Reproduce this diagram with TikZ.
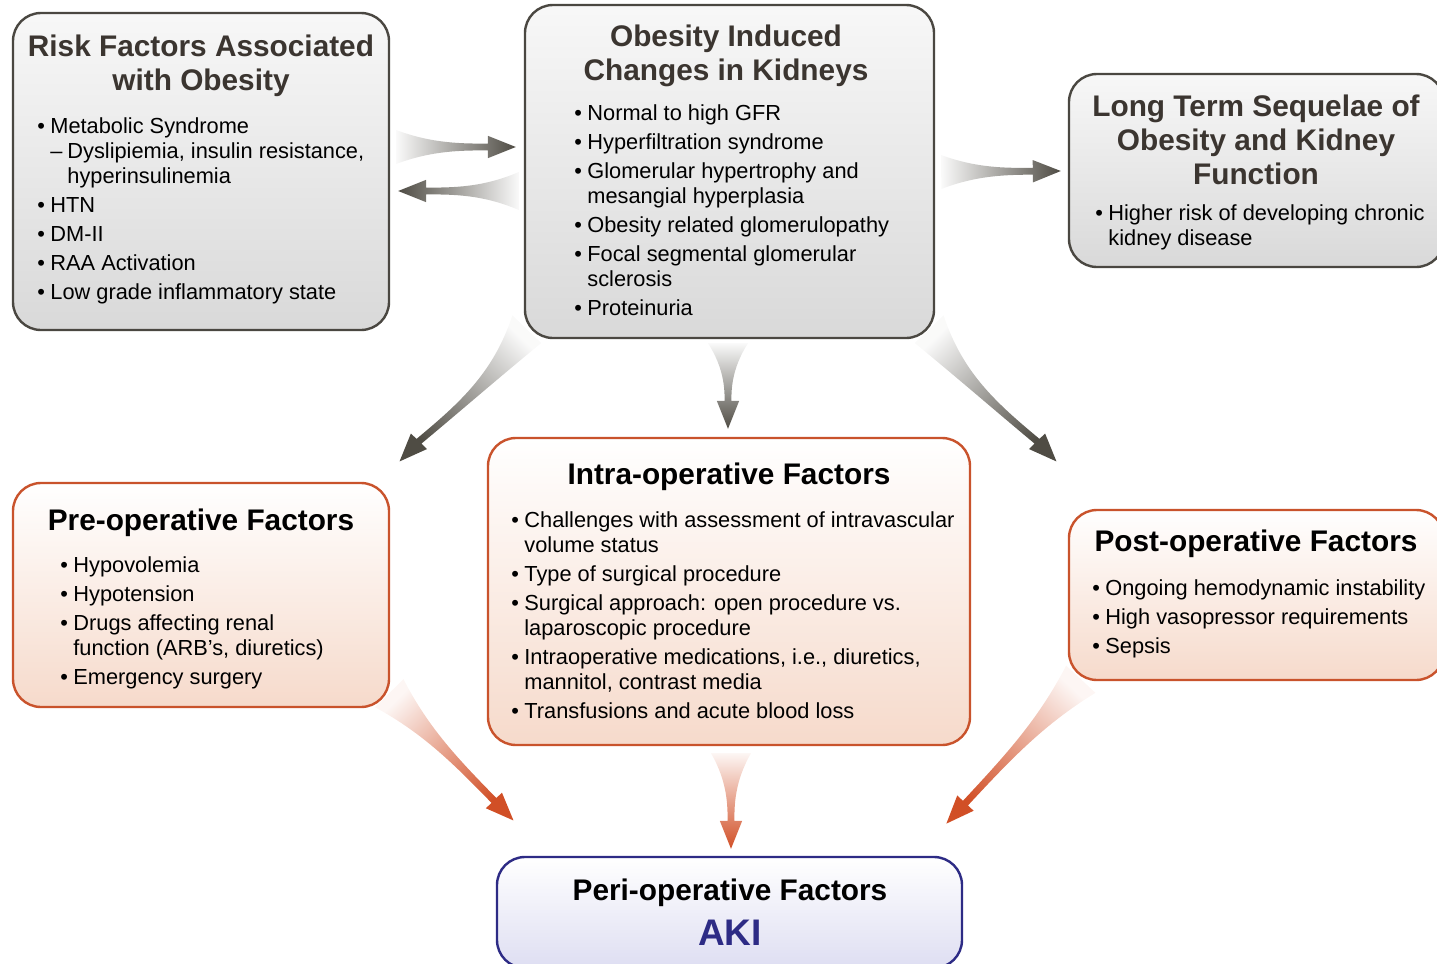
\documentclass[tikz,border=0pt]{standalone}
\usepackage{fontspec}
\setmainfont{Liberation Sans}
\usetikzlibrary{calc}

\definecolor{ttlgray}{HTML}{3B3530}
\definecolor{edgegray}{HTML}{4A4741}
\definecolor{edgered}{HTML}{C9532C}
\definecolor{fillred}{HTML}{F6DACB}
\definecolor{edgeblue}{HTML}{2D2B85}
\definecolor{fillblue}{HTML}{DEDEF2}
\definecolor{arrgray}{HTML}{4F4C44}
\definecolor{arrred}{HTML}{D14F26}

\newcommand\ttlfont{\fontsize{14.9}{17}\selectfont\bfseries}
\newcommand\lstfont{\fontsize{10.9}{12.5}\selectfont}
\newcommand\bul{\makebox[6.5pt][l]{\textbullet}}
\newcommand\ind{\hspace*{6.5pt}}

% tapered, shaded arrow: start, end, bend, tail half width, style
\newcommand\taper[5]{%
  \path let \p1=($(#2)-(#1)$) in \pgfextra{%
    \pgfmathsetmacro\tlen{veclen(\x1,\y1)}%
    \pgfmathsetmacro\tang{atan2(\y1,\x1)}%
    \pgfmathsetmacro\tshade{\tang-90}%
    \xdef\tlen{\tlen}\xdef\tang{\tang}\xdef\tshade{\tshade}};
  \begin{scope}[shift={(#1)}, rotate=\tang, x=1pt, y=1pt]
    \shade[#5, shading angle=\tshade]
      (0,#4) .. controls ({0.3*\tlen},{1.7+#3}) and ({0.55*\tlen},{1.7+0.6*#3}) .. ({\tlen-14},1.7)
      -- ({\tlen-14},5.6) -- (\tlen,0) -- ({\tlen-14},-5.6) -- ({\tlen-14},-1.7)
      .. controls ({0.55*\tlen},{-1.7+0.6*#3}) and ({0.3*\tlen},{-1.7+#3}) .. (0,-#4) -- cycle;
  \end{scope}}

\begin{document}
\begin{tikzpicture}[x=0.5pt, y=-0.5pt,
    box/.style={draw, line width=1.2pt, rounded corners=14pt, inner sep=0pt},
    graybox/.style={box, draw=edgegray, top color=black!3, bottom color=black!15},
    redbox/.style={box, draw=edgered, top color=white, bottom color=fillred},
    bluebox/.style={box, draw=edgeblue, top color=white, bottom color=fillblue},
    ttl/.style={font=\ttlfont, align=center, anchor=base, inner sep=0pt},
    lst/.style={font=\lstfont, align=left, anchor=base west, inner sep=0pt},
    garrow/.style={top color=arrgray, middle color=arrgray!80!white, bottom color=arrgray!3},
    rarrow/.style={top color=arrred, middle color=arrred!85!white, bottom color=arrred!5},
  ]
  \useasboundingbox (0,0) rectangle (1437,964);
  \clip (0,0) rectangle (1437,964);

  % Define boxes
  \node[graybox, minimum width=188pt, minimum height=158.5pt] (risk) at (201,171.5) {};
  \node[graybox, minimum width=204.5pt, minimum height=166.5pt] (kid) at (729.5,171.5) {};
  \node[graybox, minimum width=187.5pt, minimum height=96.5pt] (longt) at (1256.5,170.5) {};
  \node[redbox, minimum width=188pt, minimum height=112pt] (pre) at (201,595) {};
  \node[redbox, minimum width=241pt, minimum height=153.5pt] (intra) at (729,591.5) {};
  \node[redbox, minimum width=187.5pt, minimum height=85pt] (post) at (1256.5,595) {};
  \node[bluebox, minimum width=232.5pt, minimum height=55.5pt] (peri) at (729.5,912.5) {};

  % Titles (base = last line)
  \node[ttl, text=ttlgray] (riskT) at (201,90) {Risk Factors Associated\\with Obesity};
  \node[ttl, text=ttlgray] (kidT) at (726,80) {Obesity Induced\\Changes in Kidneys};
  \node[ttl, text=ttlgray] (longtT) at (1256,184) {Long Term Sequelae of\\Obesity and Kidney\\Function};
  \node[ttl] (preT) at (201,530) {Pre-operative Factors};
  \node[ttl] (intraT) at (729,484) {Intra-operative Factors};
  \node[ttl] (postT) at (1256,551) {Post-operative Factors};
  \node[ttl] (periT) at (730,900) {Peri-operative Factors};
  \node[ttl, text=edgeblue, font=\fontsize{18.5}{20}\selectfont\bfseries] (aki) at (730,945) {AKI};

  % Lists
  \node[lst] (riskL) at (37,299) {\bul Metabolic Syndrome\\
    \ind\makebox[8.5pt][l]{--}Dyslipiemia, insulin resistance,\\
    \ind\hspace*{8.5pt}hyperinsulinemia\\[2pt]
    \bul HTN\\[2pt]
    \bul DM-II\\[2pt]
    \bul RAA Activation\\[2pt]
    \bul Low grade inflammatory state};
  \node[lst] (kidL) at (574,315) {\bul Normal to high GFR\\[2pt]
    \bul Hyperfiltration syndrome\\[2pt]
    \bul Glomerular hypertrophy and\\
    \ind mesangial hyperplasia\\[2pt]
    \bul Obesity related glomerulopathy\\[2pt]
    \bul Focal segmental glomerular\\
    \ind sclerosis\\[2pt]
    \bul Proteinuria};
  \node[lst] (longtL) at (1095,245) {\bul Higher risk of developing chronic\\
    \ind kidney disease};
  \node[lst] (preL) at (60,684) {\bul Hypovolemia\\[2pt]
    \bul Hypotension\\[2pt]
    \bul Drugs affecting renal\\
    \ind function (ARB's, diuretics)\\[2pt]
    \bul Emergency surgery};
  \node[lst] (intraL) at (511,718) {\bul Challenges with assessment of intravascular\\
    \ind volume status\\[2pt]
    \bul Type of surgical procedure\\[2pt]
    \bul Surgical approach: open procedure vs.\\
    \ind laparoscopic procedure\\[2pt]
    \bul Intraoperative medications, i.e., diuretics,\\
    \ind mannitol, contrast media\\[2pt]
    \bul Transfusions and acute blood loss};
  \node[lst] (postL) at (1092,653) {\bul Ongoing hemodynamic instability\\[2pt]
    \bul High vasopressor requirements\\[2pt]
    \bul Sepsis};

  % Arrow ends
  \coordinate (a1s) at ($(risk.east)+(6,-24.5)$);
  \coordinate (a1e) at ($(kid.west)+(-8,-24.5)$);
  \coordinate (a2s) at ($(kid.west)+(-5,19.5)$);
  \coordinate (a2e) at ($(risk.east)+(8,19.5)$);
  \coordinate (a3s) at ($(kid.east)+(6,0.5)$);
  \coordinate (a3e) at ($(longt.west)+(-7,0.5)$);
  \coordinate (a4s) at ($(kid.south west)+(3,-10)$);
  \coordinate (a4e) at ($(pre.north east)+(9,-20)$);
  \coordinate (a5s) at ($(kid.south)+(-1.5,4)$);
  \coordinate (a5e) at ($(intra.north)+(-1,-8)$);
  \coordinate (a6s) at ($(kid.south east)+(-6,-10)$);
  \coordinate (a6e) at ($(post.north west)+(-11,-47)$);
  \coordinate (a7s) at ($(pre.south east)+(-1,-15)$);
  \coordinate (a7e) at ($(peri.north west)+(18,-35)$);
  \coordinate (a8s) at ($(intra.south)+(2,7)$);
  \coordinate (a8e) at ($(peri.north)+(1.5,-7)$);
  \coordinate (a9s) at ($(post.south west)+(13,-2)$);
  \coordinate (a9e) at ($(peri.north east)+(-17,-32)$);

  % Arrows
  \taper{a1s}{a1e}{0}{8.5}{garrow}
  \taper{a2s}{a2e}{0}{9.5}{garrow}
  \taper{a3s}{a3e}{0}{8.5}{garrow}
  \taper{a4s}{a4e}{5}{10}{garrow}
  \taper{a5s}{a5e}{0}{10}{garrow}
  \taper{a6s}{a6e}{-5}{10}{garrow}
  \taper{a7s}{a7e}{0}{10}{rarrow}
  \taper{a8s}{a8e}{0}{10}{rarrow}
  \taper{a9s}{a9e}{0}{10}{rarrow}
\end{tikzpicture}
\end{document}
